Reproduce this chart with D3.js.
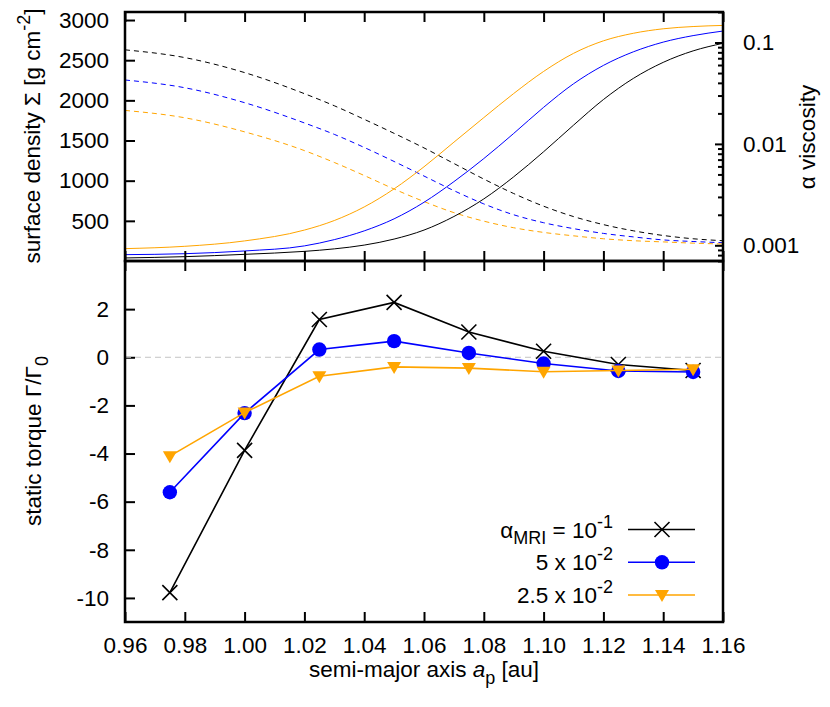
<!DOCTYPE html>
<html>
<head>
<meta charset="utf-8">
<script src="https://cdn.jsdelivr.net/npm/d3@7"></script>
<style>
  body { margin: 0; background: #fff; }
  svg text { font-family: "Liberation Sans", Arial, Helvetica, sans-serif; font-size: 22.5px; fill: #000; }
</style>
</head>
<body>
<svg id="chart"></svg>
<script>
// DATA
// radial grid of the disc profiles (top panel)
const aGrid = [0.96, 0.98, 1.00, 1.02, 1.03, 1.04, 1.05, 1.06, 1.07, 1.08, 1.09, 1.10, 1.11, 1.12, 1.13, 1.14, 1.15, 1.16];
// surface density, solid lines, left axis
const sigma1 = [38, 54, 83, 120, 151, 198, 273, 385, 554, 773, 1048, 1360, 1691, 2010, 2273, 2473, 2616, 2710];
const sigma2 = [79, 91, 125, 188, 266, 375, 525, 731, 988, 1275, 1588, 1913, 2206, 2435, 2604, 2725, 2806, 2863];
const sigma3 = [154, 183, 250, 385, 504, 673, 898, 1173, 1479, 1785, 2085, 2360, 2585, 2741, 2835, 2891, 2919, 2933];
// alpha viscosity, dashed lines, right axis
const alpha1 = [0.0847, 0.0710, 0.0505, 0.0313, 0.02378, 0.01748, 0.01271, 0.00913, 0.00641, 0.00450, 0.00324, 0.00243, 0.00192, 0.00160, 0.00139, 0.00125, 0.00116, 0.00111];
const alpha2 = [0.0427, 0.0358, 0.0255, 0.0161, 0.01242, 0.00923, 0.00671, 0.00482, 0.00346, 0.00256, 0.00200, 0.00167, 0.00146, 0.00131, 0.00121, 0.00113, 0.00109, 0.00106];
const alpha3 = [0.0214, 0.0181, 0.01315, 0.00859, 0.00656, 0.00488, 0.00359, 0.00270, 0.00210, 0.00173, 0.00149, 0.00134, 0.00124, 0.00116, 0.00111, 0.00108, 0.00105, 0.00103];

// planet positions and static torque (bottom panel)
const aPlanet = [0.975, 1.0, 1.025, 1.05, 1.075, 1.1, 1.125, 1.15];
const torque1 = [-9.78, -3.87, 1.57, 2.28, 1.05, 0.25, -0.3, -0.55];
const torque2 = [-5.61, -2.32, 0.32, 0.67, 0.18, -0.26, -0.57, -0.61];
const torque3 = [-4.11, -2.3, -0.79, -0.4, -0.45, -0.6, -0.55, -0.5];

// ticks
const xTicks = [0.96, 0.98, 1.00, 1.02, 1.04, 1.06, 1.08, 1.10, 1.12, 1.14, 1.16];
const sigmaTicks = [500, 1000, 1500, 2000, 2500, 3000];
const alphaTicks = [0.001, 0.01, 0.1];
const torqueTicks = [-10, -8, -6, -4, -2, 0, 2];

// legend
const legendLabels = [
  [{ t: "α" }, { t: "MRI", sub: true }, { t: " = 10" }, { t: "-1", sup: true }],
  [{ t: "5 x 10" }, { t: "-2", sup: true }],
  [{ t: "2.5 x 10" }, { t: "-2", sup: true }],
];
const colors = ["#000000", "#0000ff", "#ffa500"];
const markers = ["cross", "circle", "triangle"];

// DIMENSIONS
const W = 830, H = 707;
const left = 125, right = 723;
const topY = 12, midY = 261, botY = 622;

const svg = d3.select("#chart").attr("width", W).attr("height", H);

// SCALES
const x = d3.scaleLinear().domain([0.96, 1.16]).range([left, right]);
const ySigma = d3.scaleLinear().domain([0, 3100]).range([midY, topY]);
const yAlpha = d3.scaleLog().domain([7e-4, 0.2]).range([midY, topY]);
const yTorque = d3.scaleLinear().domain([-11, 4]).range([botY, midY]);

// helper for sub/superscripts
function richText(text, parts) {
  let shift = 0;
  parts.forEach((p) => {
    const target = p.sub ? 6.5 : p.sup ? -10 : 0;
    const ts = text.append("tspan").text(p.t).attr("dy", target - shift);
    if (p.sub || p.sup) ts.attr("font-size", "18px");
    if (p.italic) ts.attr("font-style", "italic");
    shift = target;
  });
}

function styleAxis(g) {
  g.select(".domain").remove();
  g.attr("font-size", 22.5).attr("font-family", null);
  g.selectAll(".tick line").attr("stroke", "#000").attr("stroke-width", 2);
  g.selectAll(".tick text").attr("fill", "#000");
}

// TOP PANEL
svg.append("clipPath").attr("id", "clipTop")
  .append("rect").attr("x", left).attr("y", topY).attr("width", right - left).attr("height", midY - topY);

const topG = svg.append("g").attr("clip-path", "url(#clipTop)");

const sigmaLine = d3.line().x((d, i) => x(aGrid[i])).y((d) => ySigma(d)).curve(d3.curveMonotoneX);
const alphaLine = d3.line().x((d, i) => x(aGrid[i])).y((d) => yAlpha(d)).curve(d3.curveMonotoneX);

[alpha1, alpha2, alpha3].forEach((vals, k) => {
  topG.append("path").attr("d", alphaLine(vals))
    .attr("fill", "none").attr("stroke", colors[k]).attr("stroke-width", 1)
    .attr("stroke-dasharray", "5,4");
});
[sigma1, sigma2, sigma3].forEach((vals, k) => {
  topG.append("path").attr("d", sigmaLine(vals))
    .attr("fill", "none").attr("stroke", colors[k]).attr("stroke-width", 1);
});

svg.append("g").attr("transform", `translate(${left},0)`)
  .call(d3.axisLeft(ySigma).tickValues(sigmaTicks).tickSize(-10).tickPadding(16).tickFormat((d) => String(d)))
  .call(styleAxis);

svg.append("g").attr("transform", `translate(${right},0)`)
  .call(d3.axisRight(yAlpha).tickValues(alphaTicks).tickSize(-8).tickPadding(20).tickFormat(d3.format("~g")))
  .call(styleAxis);

const minorAlpha = [];
[-4, -3, -2, -1].forEach((e) => {
  for (let m = 2; m <= 9; m++) {
    const v = m * Math.pow(10, e);
    if (v >= 7e-4 && v <= 0.2) minorAlpha.push(v);
  }
});
svg.append("g").attr("transform", `translate(${right},0)`)
  .call(d3.axisRight(yAlpha).tickValues(minorAlpha).tickSize(-5).tickFormat(""))
  .call(styleAxis);

svg.append("g").attr("transform", `translate(0,${topY})`)
  .call(d3.axisTop(x).tickValues(xTicks).tickSize(-10).tickFormat(""))
  .call(styleAxis);
svg.append("g").attr("transform", `translate(0,${midY})`)
  .call(d3.axisBottom(x).tickValues(xTicks).tickSize(-10).tickFormat(""))
  .call(styleAxis);

// BOTTOM PANEL
svg.append("g").attr("transform", `translate(0,${midY})`)
  .call(d3.axisTop(x).tickValues(xTicks).tickSize(-10).tickFormat(""))
  .call(styleAxis);
svg.append("g").attr("transform", `translate(0,${botY})`)
  .call(d3.axisBottom(x).tickValues(xTicks).tickSize(-10).tickPadding(15).tickFormat(d3.format(".2f")))
  .call(styleAxis);
svg.append("g").attr("transform", `translate(${left},0)`)
  .call(d3.axisLeft(yTorque).tickValues(torqueTicks).tickSize(-10).tickPadding(16).tickFormat((d) => String(d)))
  .call(styleAxis);

// zero line
svg.append("line")
  .attr("x1", x(0.96)).attr("x2", x(1.16))
  .attr("y1", yTorque(0)).attr("y2", yTorque(0))
  .attr("stroke", "#c4c4c4").attr("stroke-width", 1).attr("stroke-dasharray", "6,4");

function drawMarker(g, type, color) {
  if (type === "cross") {
    g.append("path").attr("d", "M-7.5,-7.5L7.5,7.5M-7.5,7.5L7.5,-7.5")
      .attr("stroke", color).attr("stroke-width", 1.6).attr("fill", "none");
  } else if (type === "circle") {
    g.append("circle").attr("r", 7.2).attr("fill", color);
  } else {
    g.append("path").attr("d", "M-7,-5L7,-5L0,7Z").attr("fill", color);
  }
}

const torqueLine = d3.line().x((d) => x(d[0])).y((d) => yTorque(d[1]));

[torque1, torque2, torque3].forEach((vals, k) => {
  const pts = vals.map((v, i) => [aPlanet[i], v]);
  const g = svg.append("g");
  g.append("path").attr("d", torqueLine(pts))
    .attr("fill", "none").attr("stroke", colors[k]).attr("stroke-width", 1.6);
  pts.forEach((p) => {
    const m = g.append("g").attr("transform", `translate(${x(p[0])},${yTorque(p[1])})`);
    drawMarker(m, markers[k], colors[k]);
  });
});

// LEGEND
const legendRows = [529.5, 562.3, 595];
legendLabels.forEach((parts, k) => {
  const y = legendRows[k];
  const t = svg.append("text").attr("x", 613).attr("y", y + 8).attr("text-anchor", "end");
  richText(t, parts);
  svg.append("line").attr("x1", 628).attr("x2", 695).attr("y1", y).attr("y2", y)
    .attr("stroke", colors[k]).attr("stroke-width", 1.6);
  const m = svg.append("g").attr("transform", `translate(662,${y})`);
  drawMarker(m, markers[k], colors[k]);
});

// BORDERS
svg.append("rect").attr("x", left).attr("y", topY).attr("width", right - left).attr("height", midY - topY)
  .attr("fill", "none").attr("stroke", "#000").attr("stroke-width", 2.5);
svg.append("rect").attr("x", left).attr("y", midY).attr("width", right - left).attr("height", botY - midY)
  .attr("fill", "none").attr("stroke", "#000").attr("stroke-width", 2.5);

// AXIS TITLES
const yl1 = svg.append("text").attr("transform", "translate(40,136) rotate(-90)").attr("text-anchor", "middle");
richText(yl1, [{ t: "surface density Σ [g cm" }, { t: "-2", sup: true }, { t: "]" }]);

const yl2 = svg.append("text").attr("transform", "translate(41,441) rotate(-90)").attr("text-anchor", "middle");
richText(yl2, [{ t: "static torque Γ/Γ" }, { t: "0", sub: true }]);

const yr = svg.append("text").attr("transform", "translate(815,137) rotate(-90)").attr("text-anchor", "middle");
richText(yr, [{ t: "α viscosity" }]);

const xl = svg.append("text").attr("x", 424).attr("y", 677).attr("text-anchor", "middle");
richText(xl, [{ t: "semi-major axis " }, { t: "a", italic: true }, { t: "p", sub: true }, { t: " [au]" }]);
</script>
</body>
</html>
